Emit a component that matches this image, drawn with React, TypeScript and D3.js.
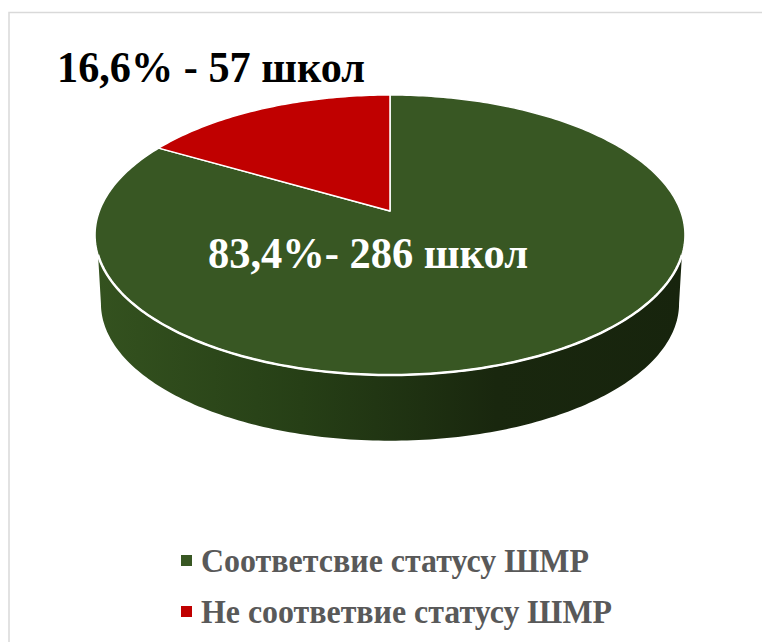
import * as React from 'react';
import * as d3 from 'd3';

const categories = ['Соответсвие статусу ШМР', 'Не соответвие статусу ШМР'];
const schools = [286, 57];
const colors = ['#385723', '#c00000'];
const labels = ['83,4%- 286 школ', '16,6% - 57 школ'];

const width = 762;
const height = 642;

// the pie top is a tilted circle, so it is projected and not just squashed
const cx = 390;
const apexY = 211;
const scaleX = 290.6;
const scaleY = 135.9;
const k = 0.1714;
const depthY = 69;
const bottomShrink = 0.98;
// where the side wall comes out from under the top face
const wallV = 0.3067;
// the text in the picture is a bit narrower than the font, so widths are fixed
const legendWidths = [388, 411];

function project(angle: number, s: number = 1, dy: number = 0): [number, number] {
    const u = Math.sin(angle);
    const v = -Math.cos(angle);
    const w = 1 - k * v;
    return [cx + (s * scaleX * u) / w, apexY + dy + (s * scaleY * v) / w];
}

function sweep(a0: number, a1: number, s: number = 1, dy: number = 0) {
    const n = Math.max(2, Math.ceil(Math.abs(a1 - a0) * 60));
    return d3.range(n + 1).map((i) => project(a0 + ((a1 - a0) * i) / n, s, dy));
}

export default function App() {
    const line = d3.line();
    // start at 12 o'clock, clockwise, green first
    const slices = d3.pie<number>().sort(null)(schools);
    const edge = Math.PI - Math.acos(k);
    const wallEdge = Math.PI - Math.acos(wallV);
    const rim = sweep(wallEdge, 2 * Math.PI - wallEdge);
    const floor = sweep(2 * Math.PI - edge, edge, bottomShrink, depthY);
    const wall = line([...rim, ...floor]) + 'Z';

    return (
        <svg
            width={width}
            height={height}
            style={{ position: 'absolute', left: 0, top: 0 }}
        >
            <defs>
                <linearGradient id="wall" gradientUnits="userSpaceOnUse" x1={95} x2={685} y1={0} y2={0}>
                    <stop offset="0" stopColor="#34521f" />
                    <stop offset="0.35" stopColor="#263f16" />
                    <stop offset="0.68" stopColor="#19270e" />
                    <stop offset="1" stopColor="#17240d" />
                </linearGradient>
            </defs>
            <rect x={0} y={0} width={width} height={height} fill="#ffffff" />
            <path d={`M9,${height}V12.5H${width}`} fill="none" stroke="#d9d9d9" strokeWidth={1.5} />
            <path d={wall} fill="url(#wall)" />
            {slices.map((d, i) => (
                <path
                    key={categories[i]}
                    d={line([[cx, apexY], ...sweep(d.startAngle, d.endAngle)]) + 'Z'}
                    fill={colors[i]}
                    stroke="#ffffff"
                    strokeWidth={1.5}
                    strokeLinejoin="round"
                />
            ))}
            <path d={line(rim) as string} fill="none" stroke="#ffffff" strokeWidth={2.5} />
            <g fontFamily="'Liberation Serif'" fontWeight="bold">
                <text x={57} y={82} fontSize={44.5} fill="#000000" textLength={308} lengthAdjust="spacingAndGlyphs">{labels[1]}</text>
                <text x={208} y={268} fontSize={45} fill="#ffffff" textLength={320} lengthAdjust="spacingAndGlyphs">{labels[0]}</text>
                {categories.map((c, i) => (
                    <g key={c}>
                        <rect x={181} y={555 + i * 51} width={11} height={11} fill={colors[i]} />
                        <text x={201} y={572 + i * 51} fontSize={33} fill="#595959" textLength={legendWidths[i]} lengthAdjust="spacingAndGlyphs">{c}</text>
                    </g>
                ))}
            </g>
        </svg>
    );
}
